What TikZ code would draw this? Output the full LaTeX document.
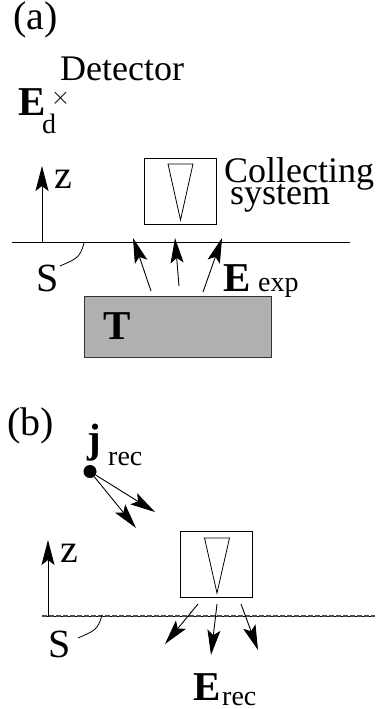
\documentclass[tikz,border=0pt]{standalone}
\usepackage{fontspec}
\setmainfont{Liberation Serif}
\usetikzlibrary{arrows.meta}
\tikzset{
  big/.style={inner sep=0pt,anchor=base west,font=\fontsize{36}{36}\selectfont},
  huge/.style={inner sep=0pt,anchor=base west,font=\fontsize{40}{40}\selectfont},
  bold/.style={inner sep=0pt,anchor=base west,font=\fontsize{41}{41}\selectfont\bfseries},
  small/.style={inner sep=0pt,anchor=base west,font=\fontsize{28}{28}\selectfont},
  arr/.style={-{Stealth[length=25pt,width=13pt,inset=5pt]},line width=0.9pt},
  thin line/.style={line width=0.8pt},
  detbox/.style={draw,line width=1pt,inner sep=0pt,minimum width=72.5pt,minimum height=66pt},
}
\begin{document}
\begin{tikzpicture}[x=1pt,y=-1pt]
\useasboundingbox (0,0) rectangle (375,709);

% part a
\node[huge] (laba) at (13,30) {(a)};
\node[big] (detector) at (60,80) {Detector};
\node[bold] (Ed) at (18,115) {E};
\node[small] (subd) at (42,133) {d};
\node[inner sep=0pt,font=\fontsize{28}{28}\selectfont] (cross) at (60.5,98) {$\times$};

\coordinate (za0) at (42,242);
\coordinate (za1) at (42,166);
\draw[arr] (za0) -- (za1);
\node[huge] (za) at (54,188) {z};

\node[detbox] (boxa) at (180.7,191) {};
\coordinate (ta1) at (168,164);
\coordinate (ta2) at (193,164);
\coordinate (ta3) at (180.5,220);
\draw[thin line] (ta1) -- (ta2) -- (ta3) -- cycle;
\node[big] (colla) at (224,182) {Collecting};
\node[big] (sysa) at (230,204) {system};

\coordinate (sa0) at (12,242);
\coordinate (sa1) at (350,242);
\draw[line width=0.7pt] (sa0) -- (sa1);
\coordinate (ca0) at (84,243);
\coordinate (ca1) at (60,266);
\draw[thin line] (ca0) .. controls (80,258) and (76,259) .. (ca1);
\node[huge] (Sa) at (36,291) {S};

\coordinate (a1s) at (151,291);
\coordinate (a1e) at (133,238);
\coordinate (a2s) at (179,286);
\coordinate (a2e) at (175,238);
\coordinate (a3s) at (203,292);
\coordinate (a3e) at (222,238);
\draw[arr] (a1s) -- (a1e);
\draw[arr] (a2s) -- (a2e);
\draw[arr] (a3s) -- (a3e);
\node[bold] (Eexp) at (223,291) {E};
\node[small] (exp) at (258,291) {exp};

\node[draw=black!80,line width=1pt,fill=black!31,inner sep=0pt,minimum width=187pt,minimum height=61pt] (target) at (177.5,326.5) {};
\node[bold] (T) at (103,339) {T};

% part b
\node[huge] (labb) at (7,435) {(b)};
\node[bold] (jrec) at (87,452) {j};
\node[small] (recj) at (108,465) {rec};
\node[circle,fill=black,inner sep=0pt,minimum size=13pt] (jdot) at (90,471.5) {};
\coordinate (j1) at (155,512);
\coordinate (j2) at (136,528);
\draw[arr] (jdot) -- (j1);
\draw[arr] (jdot) -- (j2);

\node[detbox] (boxb) at (216.7,564.7) {};
\coordinate (tb1) at (204.5,538);
\coordinate (tb2) at (229.5,538);
\coordinate (tb3) at (217,593);
\draw[thin line] (tb1) -- (tb2) -- (tb3) -- cycle;

\coordinate (zb0) at (48,616);
\coordinate (zb1) at (48,540);
\draw[arr] (zb0) -- (zb1);
\node[huge] (zb) at (60,562) {z};

\coordinate (sb0) at (42,616);
\coordinate (sb1) at (375,616);
\draw[line width=0.7pt] (sb0) -- (sb1);
\draw[line width=1.5pt,dashed,dash pattern=on 5pt off 2pt,black!70] (sb0) -- (sb1);
\coordinate (cb0) at (102,615);
\coordinate (cb1) at (78,638);
\draw[thin line] (cb0) .. controls (98,630) and (94,631) .. (cb1);
\node[huge] (Sb) at (48,657) {S};

\coordinate (b1s) at (198,604);
\coordinate (b1e) at (165,644);
\coordinate (b2s) at (217,604);
\coordinate (b2e) at (211,655);
\coordinate (b3s) at (241,604);
\coordinate (b3e) at (258,650);
\draw[arr] (b1s) -- (b1e);
\draw[arr] (b2s) -- (b2e);
\draw[arr] (b3s) -- (b3e);
\node[bold] (Erec) at (193,700) {E};
\node[small] (rece) at (222,705) {rec};
\end{tikzpicture}
\end{document}
